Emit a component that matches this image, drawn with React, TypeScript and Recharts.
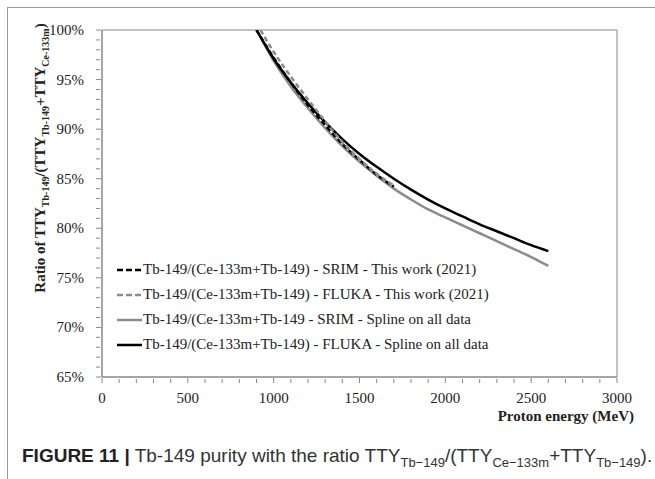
import React from 'react';
import { LineChart, Line, XAxis, YAxis, ReferenceArea } from 'recharts';

// energies (MeV) and ratios (%)
const splineEnergy = [900, 1000, 1100, 1200, 1300, 1400, 1500, 1600, 1700, 1800, 1900, 2000, 2100, 2200, 2300, 2400, 2500, 2600];
const flukaSpline = [100, 97.1, 94.7, 92.6, 90.7, 89.0, 87.5, 86.2, 85.0, 83.9, 82.9, 82.0, 81.2, 80.4, 79.7, 79.0, 78.3, 77.7];
const srimSpline = [100, 96.9, 94.3, 92.1, 90.1, 88.3, 86.7, 85.3, 84.0, 82.9, 81.9, 81.1, 80.3, 79.5, 78.7, 77.9, 77.1, 76.2];

const workEnergy = [900, 1000, 1100, 1200, 1300, 1400, 1500, 1600, 1700];
const srimWork = [100, 97.2, 94.7, 92.4, 90.4, 88.5, 86.9, 85.4, 84.2];
const flukaWork = [100.7, 97.8, 95.3, 93.0, 90.8, 88.7, 87.0, 85.5, 84.3];

const yTicks = [65, 70, 75, 80, 85, 90, 95, 100];
const xTicks = [0, 500, 1000, 1500, 2000, 2500, 3000];

const legendItems = [
  { label: 'Tb-149/(Ce-133m+Tb-149) - SRIM - This work (2021)', color: '#000', dash: '6 3' },
  { label: 'Tb-149/(Ce-133m+Tb-149) - FLUKA - This work (2021)', color: '#8c8c8c', dash: '6 3' },
  { label: 'Tb-149/(Ce-133m+Tb-149 - SRIM - Spline on all data', color: '#8c8c8c', dash: undefined },
  { label: 'Tb-149/(Ce-133m+Tb-149) - FLUKA - Spline on all data', color: '#000', dash: undefined },
];

const zip = (xs: number[], ys: number[]) => xs.map((e, i) => ({ e, v: ys[i] }));

// minor ticks every 1 % and every 100 MeV
const yMinor: number[] = [];
for (let i = 65; i <= 100; i++) yMinor.push(i);
const xMinor: number[] = [];
for (let i = 0; i <= 30; i++) xMinor.push(i * 100);

const serif = '"Liberation Serif", "Times New Roman", serif';
const axisGray = '#888';

const YTick = (props: any) => {
  const { x, y, payload } = props;
  const major = yTicks.includes(payload.value);
  return (
    <g>
      <line x1={x} x2={x + (major ? 5 : 4)} y1={y} y2={y} stroke={axisGray} />
      {major && (
        <text x={x - 12} y={y + 5} textAnchor="end" fontFamily={serif} fontSize={15} fill="#222">
          {payload.value}%
        </text>
      )}
    </g>
  );
};

const XTick = (props: any) => {
  const { x, y, payload } = props;
  const major = xTicks.includes(payload.value);
  return (
    <g>
      <line x1={x} x2={x} y1={y} y2={y - (major ? 5 : 4)} stroke={axisGray} />
      {major && (
        <text x={x} y={y + 20} textAnchor="middle" fontFamily={serif} fontSize={15} fill="#222">
          {payload.value}
        </text>
      )}
    </g>
  );
};

const YLabel = () => (
  <text
    transform="translate(45,158) rotate(-90)"
    textAnchor="middle"
    fontFamily={serif}
    fontWeight="bold"
    fontSize={15}
    fill="#222"
  >
    Ratio of TTY
    <tspan fontSize={10} dy={4}>Tb-149</tspan>
    <tspan dy={-4}>/(TTY</tspan>
    <tspan fontSize={10} dy={4}>Tb-149</tspan>
    <tspan dy={-4}>+TTY</tspan>
    <tspan fontSize={10} dy={4}>Ce-133m</tspan>
    <tspan dy={-4}>)</tspan>
  </text>
);

const XLabel = () => (
  <text x={634} y={421} textAnchor="end" fontFamily={serif} fontWeight="bold" fontSize={15} fill="#222">
    Proton energy (MeV)
  </text>
);

const App: React.FC = () => {
  return (
    <div style={{ position: 'absolute', left: 0, top: 0, width: 655, height: 479, background: '#fff', overflow: 'hidden' }}>
      <div
        style={{
          position: 'absolute',
          left: 7,
          top: 7,
          width: 700,
          height: 500,
          borderLeft: '1.5px solid #999',
          borderTop: '1.5px solid #999',
        }}
      />
      <div style={{ position: 'absolute', left: 0, top: 0 }}>
        <LineChart width={655} height={430} margin={{ top: 30, right: 38, left: 0, bottom: 0 }}>
          <XAxis
            type="number"
            dataKey="e"
            domain={[0, 3000]}
            ticks={xMinor}
            interval={0}
            tickLine={false}
            tickMargin={0}
            tick={<XTick />}
            height={53}
            axisLine={{ stroke: axisGray }}
            label={<XLabel />}
          />
          <YAxis
            type="number"
            domain={[65, 100]}
            allowDataOverflow
            ticks={yMinor}
            interval={0}
            tickLine={false}
            tickMargin={0}
            tick={<YTick />}
            width={102}
            axisLine={{ stroke: axisGray }}
            label={<YLabel />}
          />
          <ReferenceArea x1={0} x2={3000} y1={65} y2={100} fill="none" stroke={axisGray} strokeWidth={1} />
          <Line data={zip(splineEnergy, srimSpline)} dataKey="v" type="monotone" stroke="#8c8c8c" strokeWidth={2.5} dot={false} isAnimationActive={false} />
          <Line data={zip(splineEnergy, flukaSpline)} dataKey="v" type="monotone" stroke="#000" strokeWidth={2.5} dot={false} isAnimationActive={false} />
          <Line data={zip(workEnergy, srimWork)} dataKey="v" type="monotone" stroke="#000" strokeWidth={2.5} strokeDasharray="5 3" dot={false} isAnimationActive={false} />
          <Line data={zip(workEnergy, flukaWork)} dataKey="v" type="monotone" stroke="#8c8c8c" strokeWidth={2.5} strokeDasharray="5 3" dot={false} isAnimationActive={false} />
        </LineChart>
      </div>
      <div style={{ position: 'absolute', left: 117, top: 257, fontFamily: serif, fontSize: 15, color: '#222' }}>
        {legendItems.map((it) => (
          <div key={it.label} style={{ height: 25, display: 'flex', alignItems: 'center', whiteSpace: 'nowrap' }}>
            <svg width={26} height={10}>
              <line x1={0} x2={25} y1={5} y2={5} stroke={it.color} strokeWidth={2.5} strokeDasharray={it.dash} />
            </svg>
            <span>{it.label}</span>
          </div>
        ))}
      </div>
      <div
        style={{
          position: 'absolute',
          left: 22,
          top: 445,
          fontFamily: '"Liberation Sans Narrow", "Liberation Sans", Arial, sans-serif',
          fontSize: 19,
          color: '#333',
          whiteSpace: 'nowrap',
        }}
      >
        <b style={{ color: '#222' }}>FIGURE 11 |</b> Tb-149 purity with the ratio TTY
        <sub style={{ fontSize: 13 }}>Tb−149</sub>/(TTY<sub style={{ fontSize: 13 }}>Ce−133m</sub>+TTY
        <sub style={{ fontSize: 13 }}>Tb−149</sub>).
      </div>
    </div>
  );
};

export default App;
